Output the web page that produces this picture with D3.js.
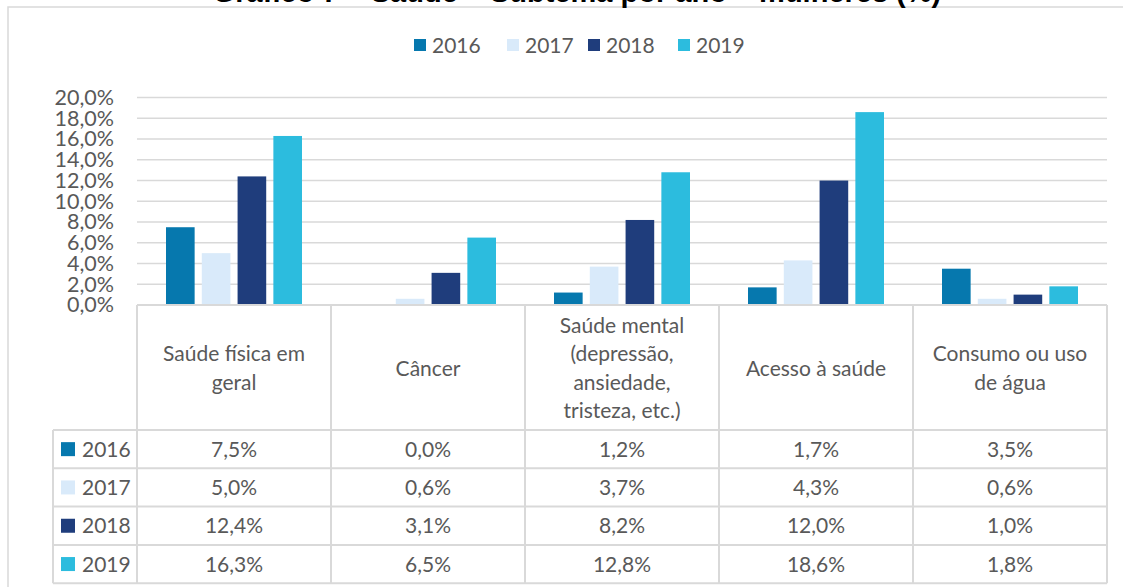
<!DOCTYPE html>
<html><head><meta charset="utf-8">
<script src="https://cdn.jsdelivr.net/npm/d3@7"></script>
<style>body{margin:0;background:#fff}svg{display:block}text{font-family:Lato,"Open Sans",sans-serif;fill:#595959}</style>
</head><body>
<script>
const title = "Gráfico 7 – Saúde – Subtema por ano – mulheres (%)";
const categories = [
  ["Saúde física em", "geral"],
  ["Câncer"],
  ["Saúde mental", "(depressão,", "ansiedade,", "tristeza, etc.)"],
  ["Acesso à saúde"],
  ["Consumo ou uso", "de água"]
];
const years = ["2016", "2017", "2018", "2019"];
const v2016 = [7.5, 0.0, 1.2, 1.7, 3.5];
const v2017 = [5.0, 0.6, 3.7, 4.3, 0.6];
const v2018 = [12.4, 3.1, 8.2, 12.0, 1.0];
const v2019 = [16.3, 6.5, 12.8, 18.6, 1.8];
const colors = ["#0678AE", "#D9EAFA", "#1F3D7C", "#2CBCDE"];
const yTicks = [0, 2, 4, 6, 8, 10, 12, 14, 16, 18, 20];

const series = [v2016, v2017, v2018, v2019];
const W = 1123, H = 587;
const svg = d3.select("body").append("svg").attr("width", W).attr("height", H);
const grid = "#D9D9D9";
const fmt = v => v.toFixed(1).replace(".", ",") + "%";
const FS = "21px";

// frame
svg.append("rect").attr("x", 8).attr("y", 7).attr("width", 1130).attr("height", 600)
  .attr("fill", "none").attr("stroke", grid).attr("stroke-width", 1.5);

// title (clipped at top, as in the reference)
svg.append("text").attr("x", 577).attr("y", 1.5).attr("text-anchor", "middle")
  .style("font-family", "'Liberation Sans',Arial,sans-serif").style("font-weight", "bold")
  .style("font-size", "29px").style("fill", "#000").text(title);

const x0 = d3.scaleBand().domain(d3.range(categories.length)).range([137, 1107]);
const x1 = d3.scaleBand().domain(years).range([29, 165]).paddingInner(0.2);
const y = d3.scaleLinear().domain([0, 20]).range([305, 97.6]);

// gridlines
svg.append("g").selectAll("line").data(yTicks.slice(1)).join("line")
  .attr("x1", 137).attr("x2", 1107).attr("y1", d => y(d)).attr("y2", d => y(d))
  .attr("stroke", grid).attr("stroke-width", 1.5);

// y axis labels
const yAxis = d3.axisLeft(y).tickValues(yTicks).tickFormat(d => d.toFixed(1).replace(".", ",") + "%").tickSize(0).tickPadding(0);
const ga = svg.append("g").attr("transform", "translate(114,0)").call(yAxis);
ga.select(".domain").remove();
ga.selectAll("text").style("font-size", "21.5px").style("fill", "#595959").style("font-family", "Lato,sans-serif");

// bars
years.forEach((yr, si) => {
  svg.append("g").selectAll("rect").data(series[si]).join("rect")
    .attr("x", (d, i) => x0(i) + x1(yr))
    .attr("width", x1.bandwidth())
    .attr("y", d => y(d))
    .attr("height", d => y(0) - y(d))
    .attr("fill", colors[si]);
});

// legend top
const legItems = [414, 507, 588, 678];
const lg = svg.append("g");
years.forEach((yr, i) => {
  lg.append("rect").attr("x", legItems[i]).attr("y", 39).attr("width", 12).attr("height", 12).attr("fill", colors[i]);
  lg.append("text").attr("x", legItems[i] + 18).attr("y", 52.5).style("font-size", FS).text(yr);
});

// data table
const headTop = 305, headBot = 430, rowH = 38.3;
const tbl = svg.append("g").attr("fill", "none").attr("stroke", grid).attr("stroke-width", 2);
tbl.append("line").attr("x1", 137).attr("x2", 1107).attr("y1", headTop).attr("y2", headTop);
for (let r = 0; r <= years.length; r++) {
  const yy = headBot + r * rowH;
  tbl.append("line").attr("x1", 53).attr("x2", 1107).attr("y1", yy).attr("y2", yy);
}
tbl.append("line").attr("x1", 53).attr("x2", 53).attr("y1", headBot).attr("y2", headBot + years.length * rowH);
for (let c = 0; c <= categories.length; c++) {
  const xx = x0.range()[0] + c * x0.bandwidth();
  tbl.append("line").attr("x1", xx).attr("x2", xx).attr("y1", headTop).attr("y2", headBot + years.length * rowH);
}
// header text
categories.forEach((lines, i) => {
  const cx = x0(i) + x0.bandwidth() / 2;
  const lh = 28.2;
  const mid = 368;
  const t = svg.append("text").attr("text-anchor", "middle").style("font-size", FS);
  lines.forEach((ln, k) => {
    t.append("tspan").attr("x", cx).attr("y", mid + (k - (lines.length - 1) / 2) * lh + 7.5).text(ln);
  });
});
// rows
years.forEach((yr, r) => {
  const cy = headBot + r * rowH + rowH / 2;
  svg.append("rect").attr("x", 61).attr("y", cy - 7).attr("width", 14).attr("height", 14).attr("fill", colors[r]);
  svg.append("text").attr("x", 82).attr("y", cy + 7.5).style("font-size", FS).text(yr);
  series[r].forEach((v, i) => {
    svg.append("text").attr("x", x0(i) + x0.bandwidth() / 2).attr("y", cy + 7.5)
      .attr("text-anchor", "middle").style("font-size", FS).text(fmt(v));
  });
});
</script>
</body></html>
